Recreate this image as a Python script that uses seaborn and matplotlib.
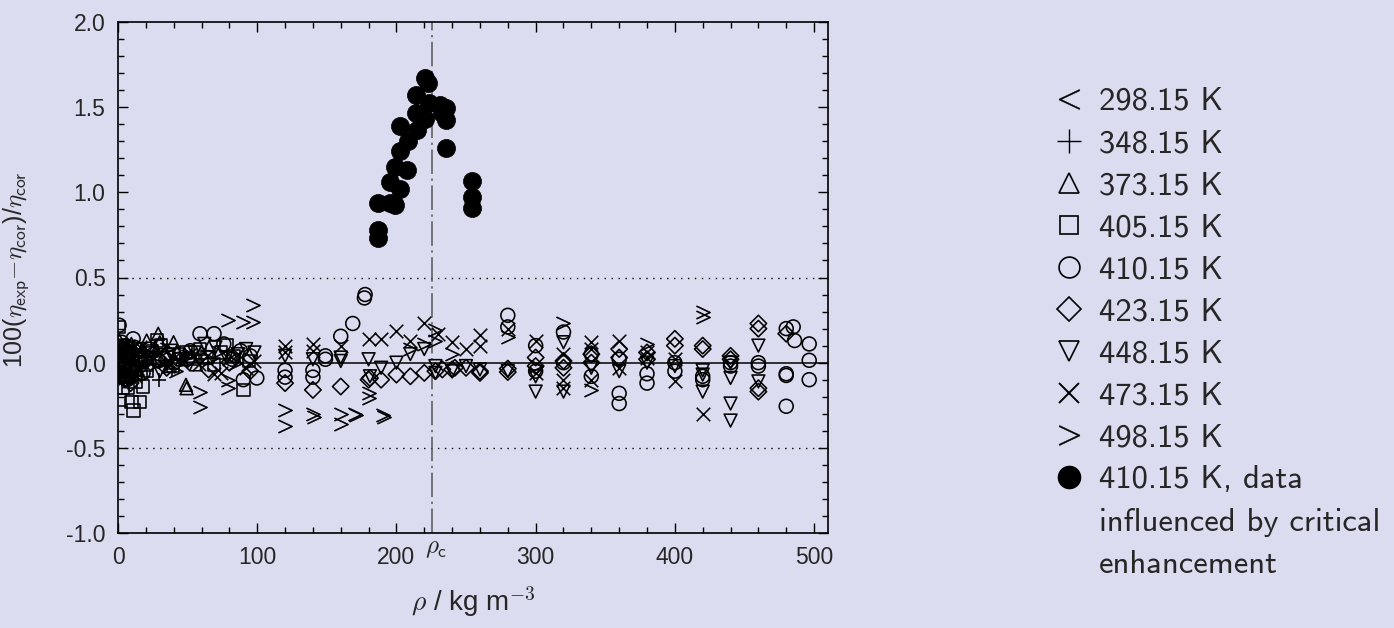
import numpy as np
import pandas as pd
import seaborn as sns
import matplotlib.pyplot as plt
from matplotlib.lines import Line2D
from matplotlib.ticker import MultipleLocator

rho_298 = [0.6, 1.2, 1.9, 2.6, 3.3, 4.1, 4.9, 5.8, 6.7, 7.6, 8.5]
dev_298 = [0.09, 0.02, -0.04, 0.06, -0.07, 0.03, -0.02, 0.07, -0.05, 0.01, 0.04]

rho_348 = [0.8, 1.8, 3.0, 4.3, 5.9, 7.6, 9.5, 11.8, 14.5, 17.5, 21.0, 25.0, 29.5, 34.0, 39.0]
dev_348 = [0.05, -0.06, 0.10, -0.09, 0.02, -0.12, -0.03, 0.06, -0.08, 0.01, -0.05, 0.04, -0.10, -0.02, -0.04]

rho_373 = [1.0, 2.3, 3.8, 5.5, 7.4, 9.6, 12.2, 15.0, 18.0, 20.6, 23.5, 26.5, 28.9, 30.0,
           33.5, 37.0, 39.9, 42.5, 46.0, 48.8, 49.3, 52.5, 56.0, 60.0]
dev_373 = [0.13, 0.04, -0.05, 0.08, -0.08, 0.11, 0.02, -0.06, 0.07, 0.13, 0.03, 0.09, 0.17, 0.12,
           0.05, -0.02, 0.12, 0.06, 0.02, -0.13, -0.15, 0.04, -0.01, 0.06]

rho_405 = [0.5, 1.4, 2.4, 3.5, 4.8, 6.0, 7.2, 8.5, 9.8, 11.0, 12.5, 14.2, 15.8, 18.0, 21.0, 24.5,
           28.0, 31.0, 35.0, 39.7, 44.0, 49.0, 54.0, 59.0, 64.0, 69.0, 74.0, 78.0, 83.0, 90.0, 94.0]
dev_405 = [0.21, -0.22, 0.09, -0.15, 0.04, -0.08, -0.15, -0.03, -0.23, -0.28, -0.11, 0.02, -0.23, -0.14,
           -0.05, 0.07, 0.13, 0.10, 0.03, -0.02, 0.05, 0.06, 0.02, 0.08, 0.03, -0.01, 0.06, 0.10, 0.04,
           -0.16, 0.01]

rho_410 = [0.8, 1.5, 2.0, 2.7, 3.5, 4.2, 5.5, 6.5, 7.2, 8.0, 9.0, 10.9, 12.0, 14.0, 16.0, 18.0, 23.0,
           29.0, 36.0, 44.0, 52.0, 58.9, 65.0, 69.0, 76.0, 82.0, 88.0, 90.0, 95.0, 99.7,
           120, 120, 140, 140, 149, 149, 160, 168.6, 177, 177.5,
           280, 280, 300, 300, 320, 320, 340, 340, 360, 360, 360, 380, 380, 400, 400, 420, 420,
           440, 440, 460, 460, 480, 480, 480, 480, 485, 486, 496.5, 496.5, 496.5]
dev_410 = [0.22, -0.08, 0.06, 0.12, -0.04, 0.0, 0.10, -0.10, 0.05, -0.02, -0.05, 0.14, 0.09, 0.03, 0.04,
           -0.06, 0.08, 0.01, 0.05, 0.02, 0.07, 0.17, 0.03, 0.17, 0.11, 0.02, 0.07, -0.10, 0.04, -0.09,
           -0.045, -0.085, -0.045, -0.085, 0.02, 0.04, 0.155, 0.23, 0.38, 0.40,
           0.278, 0.21, 0.10, -0.05, 0.18, 0.0, 0.05, -0.08, 0.02, -0.18, -0.24, -0.065, -0.12, 0.0, -0.05,
           -0.08, -0.10, -0.02, 0.0, -0.02, 0.0, 0.20, -0.065, -0.075, -0.256, 0.21, 0.13, 0.11, 0.014, -0.10]

# 410.15 K points influenced by the critical enhancement
rho_crit = [220.5, 222.9, 214.1, 223.6, 231.3, 235.6, 232.5, 214.1, 220.8, 235.6, 202.6, 214.6, 208.1,
            202.6, 235.6, 207.8, 199.0, 202.6, 195.4, 195.4, 199.0, 186.6, 186.8, 186.8, 254.5, 254.5, 254.5]
dev_crit = [1.670, 1.644, 1.572, 1.526, 1.513, 1.494, 1.468, 1.468, 1.429, 1.425, 1.391, 1.366, 1.303,
            1.243, 1.259, 1.131, 1.151, 1.018, 1.063, 0.936, 0.926, 0.936, 0.779, 0.730, 1.069, 0.971, 0.910]

rho_423 = [1.0, 2.8, 5.0, 7.0, 9.0, 11.5, 14.0, 20, 35, 50, 65, 80, 95,
           120, 140, 160, 180, 181, 189, 200, 210, 220, 228, 233, 240, 242, 250, 260, 260,
           280, 280, 300, 300, 320, 320, 340, 340, 360, 360, 380, 380, 400, 400, 420, 420,
           440, 440, 460, 460, 460, 460, 480]
dev_423 = [-0.06, 0.07, -0.10, 0.03, -0.12, 0.05, -0.04, 0.01, -0.03, 0.02, -0.04, 0.0, -0.05,
           -0.12, -0.16, -0.14, -0.10, -0.09, -0.10, -0.07, -0.08, -0.06, -0.05, -0.04, -0.04, -0.03, -0.03,
           -0.05, -0.06,
           -0.035, -0.055, -0.02, 0.03, -0.03, 0.01, 0.05, 0.0, 0.08, 0.03, 0.02, 0.06, 0.14, 0.10, 0.10, 0.08,
           0.04, 0.02, 0.23, 0.20, -0.15, -0.17, 0.17]

rho_448 = [0.7, 1.6, 2.4, 3, 4.5, 5.6, 6.8, 8, 10, 12, 15, 18, 22, 30, 38, 45, 55, 62, 70, 78, 86, 92, 98,
           120, 140, 160, 160, 180, 181, 189, 200, 210, 220, 228, 228, 240, 250, 260,
           280, 300, 300, 320, 320, 340, 360, 380, 400, 420, 420, 420,
           440, 440, 440, 440, 460, 460]
dev_448 = [0.02, -0.07, 0.10, 0.05, -0.04, 0.06, -0.10, -0.02, 0.03, -0.06, 0.08, 0.0, 0.03, -0.05, 0.07,
           0.02, 0.06, 0.11, 0.09, 0.03, 0.05, 0.08, 0.06,
           0.04, 0.02, 0.03, 0.01, 0.02, -0.08, -0.03, 0.0, 0.05, 0.08, -0.02, -0.06, -0.05, -0.02, -0.04,
           -0.05, -0.17, -0.08, 0.12, -0.17, -0.03, -0.05, 0.0, -0.02, -0.045, -0.07, -0.17,
           0.0, -0.09, -0.24, -0.34, 0.10, -0.11]

rho_473 = [0.9, 2, 3.5, 4.8, 6, 7.5, 8.5, 10, 12, 14, 16, 18, 24, 30, 36, 40, 46, 52, 58, 64, 69, 74,
           80, 86, 92, 98,
           120, 120, 140, 140, 160, 180, 189, 200, 210, 220, 230, 240, 250, 260, 260,
           280, 300, 300, 320, 320, 320, 340, 340, 340, 360, 360, 380, 380, 400, 400, 420]
dev_473 = [-0.03, 0.02, 0.06, -0.09, -0.05, 0.10, -0.02, 0.08, -0.08, -0.03, 0.09, 0.05, 0.01, 0.06, -0.02,
           0.03, 0.0, 0.05, -0.01, 0.04, -0.065, -0.06, 0.02, 0.05, -0.03, 0.01,
           0.10, 0.06, 0.11, 0.07, 0.10, 0.14, 0.14, 0.186, 0.13, 0.23, 0.17, 0.12, 0.08, 0.16, 0.10,
           0.20, 0.13, -0.06, 0.05, -0.10, -0.15, 0.12, 0.08, -0.10, 0.13, -0.03, 0.06, 0.03, 0.02, -0.11, -0.30]

rho_498 = [1.5, 3.5, 5, 8, 10, 12, 20, 28, 35, 42, 50, 59, 59, 66, 72, 79, 79, 79.3, 85, 90, 97, 97.2,
           120, 120, 140, 141, 160, 160, 170, 171, 180, 180, 190, 191, 210, 220, 228, 228, 240,
           280, 300, 320, 340, 380, 420, 420]
dev_498 = [-0.08, 0.10, 0.03, -0.11, 0.05, -0.04, 0.06, 0.0, 0.08, -0.05, 0.04, -0.17, -0.26, 0.02, 0.06,
           -0.10, -0.15, 0.25, 0.0, 0.24, 0.24, 0.337,
           -0.28, -0.37, -0.30, -0.32, -0.30, -0.36, -0.30, -0.31, -0.18, -0.21, -0.31, -0.32, 0.08, 0.11,
           0.19, 0.13, 0.05,
           0.15, -0.02, 0.23, -0.16, 0.11, 0.30, 0.27]

rho_c = 225.5

labels = ['298.15 K', '348.15 K', '373.15 K', '405.15 K', '410.15 K',
          '423.15 K', '448.15 K', '473.15 K', '498.15 K', '410.15 K, data']

bg = '#dcdcf0'

sns.set_theme(style='ticks')
plt.rcParams['font.family'] = ['Liberation Sans', 'DejaVu Sans']
plt.rcParams['mathtext.fontset'] = 'cm'
plt.rcParams['axes.unicode_minus'] = False

fig = plt.figure(figsize=(13.94, 6.28), dpi=100, facecolor=bg)
ax = fig.add_axes([118 / 1394, 1 - 533 / 628, 710 / 1394, 511 / 628])
ax.set_facecolor(bg)

# reference lines
ax.axhline(0, color='black', lw=1.1, zorder=1)
ax.axhline(0.5, color='black', lw=1.0, ls=(0, (1, 4)), zorder=1)
ax.axhline(-0.5, color='black', lw=1.0, ls=(0, (1, 4)), zorder=1)
ax.axvline(rho_c, color='#555555', lw=1.1, ls=(0, (16, 3, 1.5, 3)), zorder=1)

open_kw = dict(facecolor='none', edgecolor='black', linewidth=1.15, color='black')

sns.scatterplot(x=rho_298, y=dev_298, marker='$<$', s=80, color='black', edgecolor='black',
                linewidth=0.4, ax=ax)
sns.scatterplot(x=rho_348, y=dev_348, marker='+', s=90, color='black', linewidth=1.15, ax=ax)
sns.scatterplot(x=rho_373, y=dev_373, marker='^', s=85, ax=ax, **open_kw)
sns.scatterplot(x=rho_405, y=dev_405, marker='s', s=80, ax=ax, **open_kw)
sns.scatterplot(x=rho_410, y=dev_410, marker='o', s=100, ax=ax, **open_kw)
sns.scatterplot(x=rho_423, y=dev_423, marker='D', s=70, ax=ax, **open_kw)
sns.scatterplot(x=rho_448, y=dev_448, marker='v', s=85, ax=ax, **open_kw)
sns.scatterplot(x=rho_473, y=dev_473, marker='x', s=95, color='black', linewidth=1.15, ax=ax)
sns.scatterplot(x=rho_498, y=dev_498, marker='$>$', s=100, color='black', edgecolor='black',
                linewidth=0.5, ax=ax)
sns.scatterplot(x=rho_crit, y=dev_crit, marker='o', s=170, color='black', edgecolor='black',
                linewidth=0.5, ax=ax, zorder=4)

ax.set_xlim(0, 510)
ax.set_ylim(-1.0, 2.0)
ax.xaxis.set_major_locator(MultipleLocator(100))
ax.xaxis.set_minor_locator(MultipleLocator(20))
ax.yaxis.set_major_locator(MultipleLocator(0.5))
ax.yaxis.set_minor_locator(MultipleLocator(0.1))
ax.yaxis.set_major_formatter(plt.FormatStrFormatter('%.1f'))
ax.tick_params(which='both', direction='in', top=True, right=True, color='black', width=1.0)
ax.tick_params(which='major', length=7, labelsize=16.5, pad=9)
ax.tick_params(which='minor', length=4)
for s in ax.spines.values():
    s.set_color('black')
    s.set_linewidth(1.2)

ax.annotate(r'$\rho_\mathsf{c}$', xy=(rho_c, -1.0), xytext=(3, -2), textcoords='offset points',
            ha='center', va='top', fontsize=18)

ax.set_xlabel(r'$\rho$ / kg m$^{\mathsf{-3}}$', fontsize=20)
ax.set_ylabel(r'100($\eta_{\mathsf{exp}}$$-$$\eta_{\mathsf{cor}}$)/$\eta_{\mathsf{cor}}$', fontsize=18)
ax.xaxis.set_label_coords(0.5, -0.1)
ax.yaxis.set_label_coords(-0.123, 0.515)

# legend on the right
lk = dict(linestyle='none', color='black')
handles = [
    Line2D([], [], marker='$<$', markersize=15, markeredgewidth=0.3, **lk),
    Line2D([], [], marker='+', markersize=17, markeredgewidth=1.0, **lk),
    Line2D([], [], marker='^', markersize=14, markerfacecolor='none', markeredgewidth=1.2, **lk),
    Line2D([], [], marker='s', markersize=13, markerfacecolor='none', markeredgewidth=1.2, **lk),
    Line2D([], [], marker='o', markersize=15, markerfacecolor='none', markeredgewidth=1.2, **lk),
    Line2D([], [], marker='D', markersize=12, markerfacecolor='none', markeredgewidth=1.2, **lk),
    Line2D([], [], marker='v', markersize=14, markerfacecolor='none', markeredgewidth=1.2, **lk),
    Line2D([], [], marker='x', markersize=14, markeredgewidth=1.4, **lk),
    Line2D([], [], marker='$>$', markersize=15, markeredgewidth=0.3, **lk),
    Line2D([], [], marker='o', markersize=16, **lk),
    Line2D([], [], marker='none', **lk),
    Line2D([], [], marker='none', **lk),
]
leg_labels = labels + ['influenced by critical', 'enhancement']
fig.legend(handles, leg_labels, loc='upper left', bbox_to_anchor=(1053 / 1394, 1 - 87 / 628),
           frameon=False, prop={'family': 'cmss10', 'size': 23.5}, handlelength=0.95,
           handletextpad=0.45, labelspacing=0.40, borderpad=0, borderaxespad=0)

fig.savefig('out.png', dpi=100, facecolor=bg)
